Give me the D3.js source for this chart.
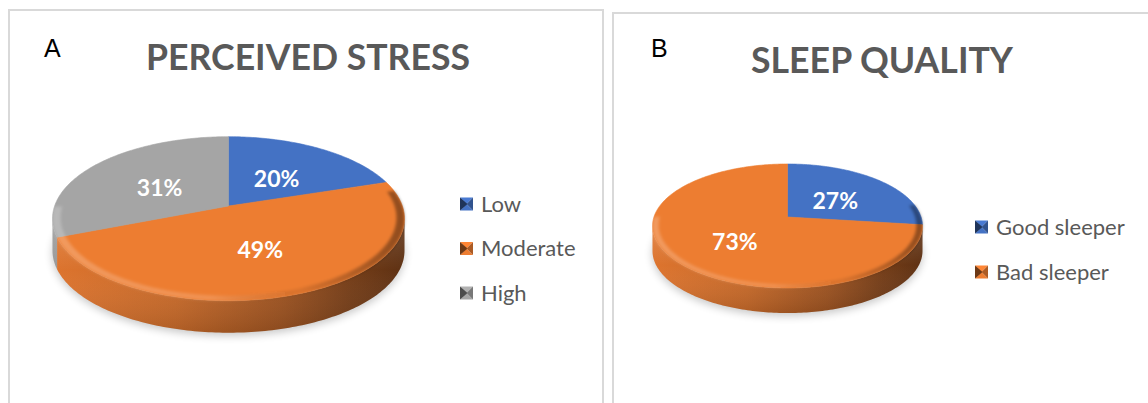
<!DOCTYPE html>
<html>
<head>
<meta charset="utf-8">
<script src="https://cdn.jsdelivr.net/npm/d3@7"></script>
<style>
  html, body { margin: 0; padding: 0; background: #ffffff; }
  svg { display: block; }
</style>
</head>
<body>
<svg id="chart" width="1148" height="403"></svg>
<script>
// ---- data ----
const stressCategories = ["Low", "Moderate", "High"];
const stressValues = [20, 49, 31];
const sleepCategories = ["Good sleeper", "Bad sleeper"];
const sleepValues = [27, 73];
const panelLetters = ["A", "B"];
const panelTitles = ["PERCEIVED STRESS", "SLEEP QUALITY"];

// Office palette
const sliceColors = ["#4472C4", "#ED7D31", "#A5A5A5"];

// ---- layout of the two panels ----
const panels = [
  {
    letter: panelLetters[0], title: panelTitles[0],
    categories: stressCategories, values: stressValues,
    frame: { x: 9, y: 10, w: 594, h: 420 },
    letterPos: [44, 57], titlePos: [308, 70], titleLen: 324,
    pie: { cx: 228.5, cy: 206, rx: 176, ry: 82, k: -0.155, depth: 32 },
    legend: { x: 460, y0: 204, step: 44.5 }
  },
  {
    letter: panelLetters[1], title: panelTitles[1],
    categories: sleepCategories, values: sleepValues,
    frame: { x: 613, y: 13, w: 560, h: 420 },
    letterPos: [651, 57], titlePos: [882, 73], titleLen: 262,
    pie: { cx: 787.5, cy: 217, rx: 135, ry: 62, k: -0.145, depth: 25 },
    legend: { x: 975, y0: 227, step: 45 }
  }
];

const svg = d3.select("#chart");
const defs = svg.append("defs");

// soft drop shadow below each pie
const blur = defs.append("filter").attr("id", "pieShadow")
  .attr("x", "-20%").attr("y", "-20%").attr("width", "140%").attr("height", "140%");
blur.append("feGaussianBlur").attr("stdDeviation", 4);
// slight softening of the rim bevel
const soft = defs.append("filter").attr("id", "bevelSoft")
  .attr("x", "-5%").attr("y", "-20%").attr("width", "110%").attr("height", "140%");
soft.append("feGaussianBlur").attr("stdDeviation", 1.4);

const color = d3.scaleOrdinal().range(sliceColors);
const pieLayout = d3.pie().sort(null).value(d => d.value);
const line = d3.line();

panels.forEach((p, pi) => {
  const g = svg.append("g");
  color.domain(p.categories);

  // panel frame
  g.append("rect")
    .attr("x", p.frame.x).attr("y", p.frame.y)
    .attr("width", p.frame.w).attr("height", p.frame.h)
    .attr("fill", "none").attr("stroke", "#d9d9d9").attr("stroke-width", 2);

  // panel letter
  g.append("text")
    .attr("x", p.letterPos[0]).attr("y", p.letterPos[1])
    .attr("font-family", "Liberation Sans, Arial, sans-serif")
    .attr("font-size", 25).attr("fill", "#000")
    .text(p.letter);

  // title
  g.append("text")
    .attr("x", p.titlePos[0]).attr("y", p.titlePos[1])
    .attr("text-anchor", "middle")
    .attr("font-family", "Lato, 'Open Sans', sans-serif")
    .attr("font-weight", 700).attr("font-size", 36)
    .attr("fill", "#595959")
    .attr("textLength", p.titleLen).attr("lengthAdjust", "spacingAndGlyphs")
    .text(p.title);

  // ---- tilted pie with perspective ----
  const P = p.pie;
  const k = P.k;
  const sx = P.rx * Math.sqrt(1 - k * k);
  const sy = P.ry * (1 - k * k);
  const xs = d3.scaleLinear().domain([-1, 1]).range([P.cx - sx, P.cx + sx]);
  const ys = d3.scaleLinear().domain([-1, 1]).range([P.cy - sy, P.cy + sy]);
  // disk point (angle clockwise from 12 o'clock, radius fraction) -> screen
  const proj = (theta, r, dy = 0) => {
    const u = r * Math.sin(theta), v = -r * Math.cos(theta);
    const w = 1 + k * v;
    return [xs(u / w), ys(v / w) + dy];
  };
  const sample = (a0, a1) => {
    const n = Math.max(2, Math.ceil((a1 - a0) / (Math.PI / 180)));
    return d3.range(n + 1).map(i => a0 + (a1 - a0) * i / n);
  };

  const arcs = pieLayout(p.categories.map((c, i) => ({ cat: c, value: p.values[i] })));
  const frontStart = Math.acos(k), frontEnd = 2 * Math.PI - Math.acos(k);

  // shadow under the base
  const basePts = sample(0, 2 * Math.PI).map(t => proj(t, 1.0, P.depth + 3));
  g.append("path")
    .attr("d", line(basePts) + "Z")
    .attr("fill", "#000").attr("opacity", 0.22)
    .attr("filter", "url(#pieShadow)");

  // side walls
  arcs.forEach((a, i) => {
    const lo = Math.max(a.startAngle, frontStart), hi = Math.min(a.endAngle, frontEnd);
    if (hi <= lo) return;
    const c = d3.color(color(a.data.cat));
    const gid = `side${pi}_${i}`;
    const grad = defs.append("linearGradient").attr("id", gid)
      .attr("gradientUnits", "userSpaceOnUse")
      .attr("x1", P.cx - P.rx).attr("x2", P.cx + P.rx).attr("y1", 0).attr("y2", 0);
    [[0, 0.2], [0.35, 0.5], [0.65, 1.15], [0.85, 2.0], [1, 2.6]].forEach(([o, d]) =>
      grad.append("stop").attr("offset", o).attr("stop-color", c.darker(d).formatHex()));
    const ts = sample(lo, hi);
    const top = ts.map(t => proj(t, 1, 0));
    const bot = ts.slice().reverse().map(t => proj(t, 1, P.depth));
    g.append("path").attr("d", line(top.concat(bot)) + "Z").attr("fill", `url(#${gid})`);
  });

  // vertical shading on the wall: lighter just below the rim
  const wallGrad = defs.append("linearGradient").attr("id", `wall${pi}`)
    .attr("x1", 0).attr("x2", 0).attr("y1", 0).attr("y2", 1);
  wallGrad.append("stop").attr("offset", 0).attr("stop-color", "#fff").attr("stop-opacity", 0.15);
  wallGrad.append("stop").attr("offset", 0.45).attr("stop-color", "#fff").attr("stop-opacity", 0);
  wallGrad.append("stop").attr("offset", 1).attr("stop-color", "#000").attr("stop-opacity", 0.12);
  {
    const ts = sample(frontStart, frontEnd);
    const top = ts.map(t => proj(t, 1, 0));
    const bot = ts.slice().reverse().map(t => proj(t, 1, P.depth));
    g.append("path").attr("d", line(top.concat(bot)) + "Z").attr("fill", `url(#wall${pi})`);
  }

  // top faces
  arcs.forEach(a => {
    const pts = [proj(0, 0)].concat(sample(a.startAngle, a.endAngle).map(t => proj(t, 1)));
    g.append("path").attr("d", line(pts) + "Z")
      .attr("fill", color(a.data.cat))
      .attr("stroke", color(a.data.cat)).attr("stroke-width", 0.6);
  });

  // rounded bevel along the front rim of the top face
  const bevGrad = defs.append("linearGradient").attr("id", `bevel${pi}`)
    .attr("gradientUnits", "userSpaceOnUse")
    .attr("x1", P.cx - P.rx).attr("x2", P.cx + P.rx).attr("y1", 0).attr("y2", 0);
  [[0, "#fff", 0.22], [0.45, "#fff", 0.16], [0.7, "#000", 0.08], [1, "#000", 0.4]].forEach(([o, col, op]) =>
    bevGrad.append("stop").attr("offset", o).attr("stop-color", col).attr("stop-opacity", op));
  {
    const ts = sample(frontStart - 0.35, frontEnd + 0.15);
    const outer = ts.map(t => proj(t, 1));
    const inner = ts.slice().reverse().map(t => proj(t, 0.955));
    g.append("path").attr("d", line(outer.concat(inner)) + "Z")
      .attr("fill", `url(#bevel${pi})`).attr("filter", "url(#bevelSoft)");
  }

  // percentage labels
  arcs.forEach(a => {
    const mid = (a.startAngle + a.endAngle) / 2;
    const [lx, ly] = proj(mid, 0.5);
    g.append("text")
      .attr("x", lx).attr("y", ly + 2.5)
      .attr("text-anchor", "middle").attr("dominant-baseline", "central")
      .attr("font-family", "Lato, 'Open Sans', sans-serif")
      .attr("font-weight", 700).attr("font-size", 23)
      .attr("fill", "#ffffff")
      .text(a.data.value + "%");
  });

  // legend
  const L = p.legend, s = 13;
  p.categories.forEach((cat, i) => {
    const yc = L.y0 + i * L.step;
    const c = d3.color(color(cat));
    const x0 = L.x, y0 = yc - s / 2, mx = x0 + s / 2, my = yc;
    const tri = (pts, fill) => g.append("path").attr("d", line(pts) + "Z").attr("fill", fill);
    tri([[x0, y0], [x0 + s, y0], [mx, my]], c.brighter(0.2).formatHex());
    tri([[x0, y0 + s], [x0 + s, y0 + s], [mx, my]], c.formatHex());
    tri([[x0, y0], [x0, y0 + s], [mx + 1, my]], c.darker(2.2).formatHex());
    tri([[x0 + s, y0], [x0 + s, y0 + s], [mx, my]], c.darker(0.9).formatHex());
    g.append("text")
      .attr("x", x0 + 21).attr("y", yc)
      .attr("dy", "0.36em")
      .attr("font-family", "Lato, 'Open Sans', sans-serif")
      .attr("font-size", 22).attr("fill", "#595959")
      .text(cat);
  });
});
</script>
</body>
</html>
